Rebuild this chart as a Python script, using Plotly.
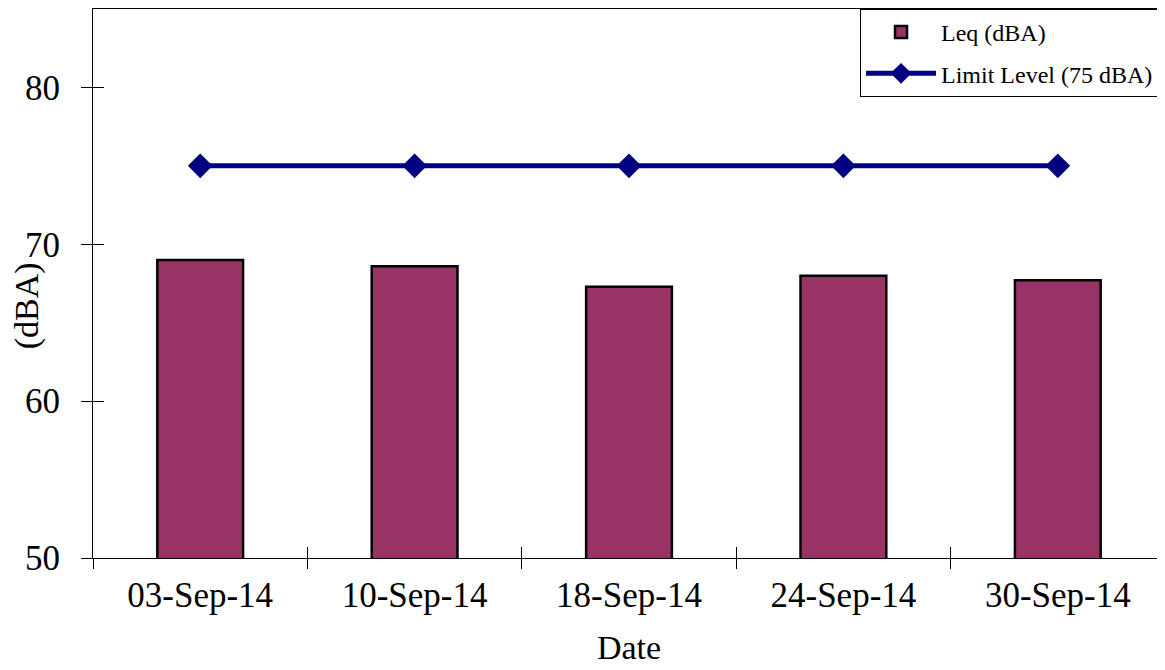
import plotly.graph_objects as go

dates = ["03-Sep-14", "10-Sep-14", "18-Sep-14", "24-Sep-14", "30-Sep-14"]
leq = [69.0, 68.6, 67.3, 68.0, 67.7]
limit = [75, 75, 75, 75, 75]

FONT = "Liberation Serif"

fig = go.Figure()
fig.add_trace(go.Bar(
    x=dates, y=leq, name="Leq (dBA)", width=0.4, legendgroup="a",
    marker=dict(color="#993366", line=dict(color="black", width=2.5)),
))
fig.add_trace(go.Scatter(
    x=dates, y=limit, name="Limit Level (75 dBA)", mode="lines+markers",
    legendgroup="b",
    line=dict(color="#000080", width=5),
    marker=dict(symbol="diamond", size=19, color="#000080"),
))
# invisible helper trace to draw the inner half of the crossing ticks
fig.add_trace(go.Bar(
    x=dates, y=leq, xaxis="x2", yaxis="y2", opacity=0, showlegend=False,
    hoverinfo="skip", marker=dict(color="rgba(0,0,0,0)"),
))

fig.update_layout(
    width=1165, height=670,
    margin=dict(l=85, r=8, t=1, b=120),
    paper_bgcolor="white", plot_bgcolor="white",
    font=dict(family=FONT, size=35, color="black"),
    showlegend=True,
    legend=dict(
        x=0.7155, xanchor="left", y=1.0, yanchor="top",
        bgcolor="white", bordercolor="black", borderwidth=1,
        font=dict(family=FONT, size=24, color="black"),
        tracegroupgap=7, itemwidth=70,
    ),
    xaxis=dict(
        type="category", range=[-0.5, 4.5], tickson="boundaries",
        ticks="outside", ticklen=10, tickwidth=1, tickcolor="black",
        showline=True, linecolor="black", linewidth=1, mirror=True,
        showgrid=False, zeroline=False, automargin=False,
        ticklabelstandoff=6,
        title=dict(text="Date", standoff=21, font=dict(size=34)),
        tickfont=dict(size=35),
    ),
    yaxis=dict(
        range=[50, 85], dtick=10, tick0=50,
        ticks="outside", ticklen=11, tickwidth=1, tickcolor="black",
        showline=True, linecolor="black", linewidth=1,
        showgrid=False, zeroline=False, automargin=False,
        ticklabelstandoff=14,
        tickfont=dict(size=35),
    ),
    xaxis2=dict(
        type="category", overlaying="x", anchor="y2", range=[-0.5, 4.5],
        tickson="boundaries", ticks="inside", ticklen=11, tickwidth=1,
        tickcolor="black", showticklabels=False, showgrid=False,
        zeroline=False, showline=False,
    ),
    yaxis2=dict(
        overlaying="y", anchor="x2", side="left", range=[50, 85], dtick=10,
        ticks="inside", ticklen=11, tickwidth=1, tickcolor="black",
        showticklabels=False, showgrid=False, zeroline=False, showline=False,
    ),
    bargap=0.6,
    annotations=[dict(
        text="(dBA)", textangle=-90, xref="paper", yref="paper",
        x=-0.0608, y=0.46, xanchor="center", yanchor="middle",
        showarrow=False, font=dict(family=FONT, size=34, color="black"),
    )],
)

fig.write_html("out.html")
